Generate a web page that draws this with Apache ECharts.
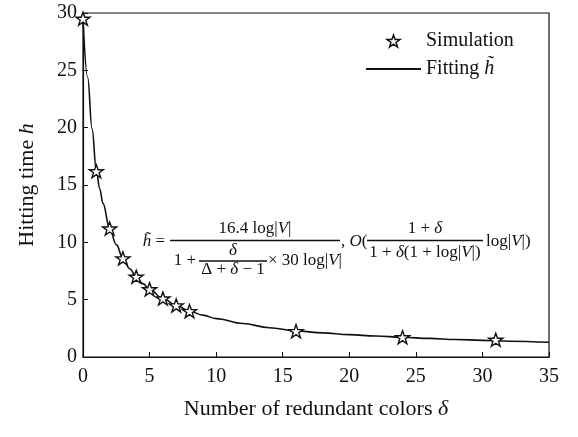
<!DOCTYPE html>
<html>
<head>
<meta charset="utf-8">
<script src="https://cdn.jsdelivr.net/npm/echarts@6/dist/echarts.min.js"></script>
<style>
  html, body { margin: 0; padding: 0; background: #fff; }
  #chart { width: 578px; height: 437px; }
</style>
</head>
<body>
<div id="chart"></div>
<script>
// datos
const simDelta = [0, 1, 2, 3, 4, 5, 6, 7, 8, 16, 24, 31];
const simHitting = [29.5, 16.2, 11.2, 8.6, 7.0, 5.9, 5.1, 4.5, 4.0, 2.25, 1.72, 1.5];

const fitDelta = [0, 0.35, 0.68, 1, 1.25, 1.5, 2, 2.5, 3, 3.5, 4, 4.5, 5, 6, 7, 8, 9, 10, 12, 14, 16, 18, 20, 22, 24, 26, 28, 30, 32, 35];
const fitHitting = [29.5, 24.4, 19.9, 16.3, 14.7, 13.4, 11.2, 9.8, 8.6, 7.7, 7.0, 6.4, 5.9, 5.1, 4.5, 4.0, 3.65, 3.35, 2.92, 2.55, 2.28, 2.1, 1.95, 1.83, 1.72, 1.62, 1.53, 1.45, 1.38, 1.28];

const xTicks = [0, 5, 10, 15, 20, 25, 30, 35];
const yTicks = [0, 5, 10, 15, 20, 25, 30];

const FONT = '"Liberation Serif", "Times New Roman", serif';
const STAR = 'path://M12,0 L14.9,8.1 L23.4,8.1 L16.5,13.1 L19.1,21.2 L12,16.2 L4.9,21.2 L7.5,13.1 L0.6,8.1 L9.1,8.1 Z';
const FS = 17; // tamano de la formula

const chart = echarts.init(document.getElementById('chart'), null, { renderer: 'canvas' });

function richStyles(size) {
  return {
    n: { fontFamily: FONT, fontSize: size, color: '#111' },
    i: { fontFamily: FONT, fontSize: size, color: '#111', fontStyle: 'italic' }
  };
}

// texto de la formula, todo con estilos rich
function txt(x, y, text, align) {
  return {
    type: 'text',
    x: x, y: y,
    style: {
      text: text,
      font: FS + 'px ' + FONT,
      fill: '#111',
      align: align || 'center',
      verticalAlign: 'middle',
      rich: {
        n: { fontFamily: FONT, fontSize: FS, fill: '#111' },
        i: { fontFamily: FONT, fontSize: FS, fill: '#111', fontStyle: 'italic' }
      }
    },
    z: 10
  };
}

function bar(x1, x2, y) {
  return {
    type: 'line',
    shape: { x1: x1, y1: y, x2: x2, y2: y },
    style: { stroke: '#111', lineWidth: 1.4 },
    z: 10
  };
}

const option = {
  backgroundColor: '#fff',
  animation: false,
  grid: {
    left: 83, right: 29, top: 13, bottom: 80,
    show: true, borderColor: '#111', borderWidth: 1.2, backgroundColor: 'transparent'
  },
  legend: {
    left: 365, top: 31,
    orient: 'vertical',
    padding: 0,
    itemWidth: 55,
    itemHeight: 12,
    itemGap: 8,
    textStyle: { fontFamily: FONT, fontSize: 20, color: '#111', rich: richStyles(20) },
    formatter: function (name) {
      return name === 'Fitting' ? '{n|Fitting }{i|h\u0303}' : '{n|' + name + '}';
    },
    data: [
      { name: 'Simulation', itemStyle: { color: '#fff', borderColor: '#111', borderWidth: 1.5 } },
      { name: 'Fitting', itemStyle: { opacity: 0 } }
    ]
  },
  xAxis: {
    type: 'value',
    min: 0, max: 35, interval: 5,
    name: '{n|Number of redundant colors }{i|δ}',
    nameLocation: 'middle',
    nameGap: 41,
    nameTextStyle: { fontFamily: FONT, fontSize: 22, color: '#111', rich: richStyles(22) },
    axisLine: { lineStyle: { color: '#111', width: 1.2 } },
    axisTick: { inside: true, length: 5, lineStyle: { color: '#111' } },
    axisLabel: { fontFamily: FONT, fontSize: 20, color: '#111', margin: 10,
      formatter: function (v) { return xTicks.indexOf(v) >= 0 ? String(v) : ''; } },
    splitLine: { show: false }
  },
  yAxis: {
    type: 'value',
    min: 0, max: 30, interval: 5,
    name: '{n|Hitting time }{i|h}',
    nameLocation: 'middle',
    nameGap: 45,
    nameTextStyle: { fontFamily: FONT, fontSize: 22, color: '#111', rich: richStyles(22) },
    axisLine: { lineStyle: { color: '#111', width: 1.2 } },
    axisTick: { inside: true, length: 5, lineStyle: { color: '#111' } },
    axisLabel: { fontFamily: FONT, fontSize: 20, color: '#111', margin: 6,
      formatter: function (v) { return yTicks.indexOf(v) >= 0 ? String(v) : ''; } },
    splitLine: { show: false }
  },
  series: [
    {
      name: 'Fitting',
      type: 'line',
      data: fitDelta.map((d, i) => [d, fitHitting[i]]),
      symbol: 'none',
      smooth: 0.4,
      smoothMonotone: 'x',
      lineStyle: { color: '#111', width: 1.6 },
      itemStyle: { color: '#111' },
      z: 2
    },
    {
      name: 'Simulation',
      type: 'scatter',
      data: simDelta.map((d, i) => [d, simHitting[i]]),
      symbol: STAR,
      symbolSize: 14,
      symbolKeepAspect: true,
      itemStyle: { color: '#fff', borderColor: '#111', borderWidth: 1.4, opacity: 1 },
      z: 3
    }
  ],
  graphic: [
    txt(154, 242, '{i|h\u0303}{n| =}'),
    bar(170, 340, 240.5),
    txt(255, 229, '{n|16.4 log|}{i|V}{n||}'),
    txt(185, 261, '{n|1 +}'),
    txt(233, 251, '{i|δ}'),
    bar(199, 267, 261),
    txt(233, 270, '{n|Δ + }{i|δ}{n| − 1}'),
    txt(305, 261, '{n|× 30 log|}{i|V}{n||}'),
    txt(341, 242, '{n|, }{i|O}{n|(}', 'left'),
    bar(367, 483, 240.5),
    txt(425, 229, '{n|1 + }{i|δ}'),
    txt(425, 253, '{n|1 + }{i|δ}{n|(1 + log|}{i|V}{n||)}'),
    txt(486, 242, '{n|log|}{i|V}{n||)}', 'left')
  ]
};

chart.setOption(option);
</script>
</body>
</html>
